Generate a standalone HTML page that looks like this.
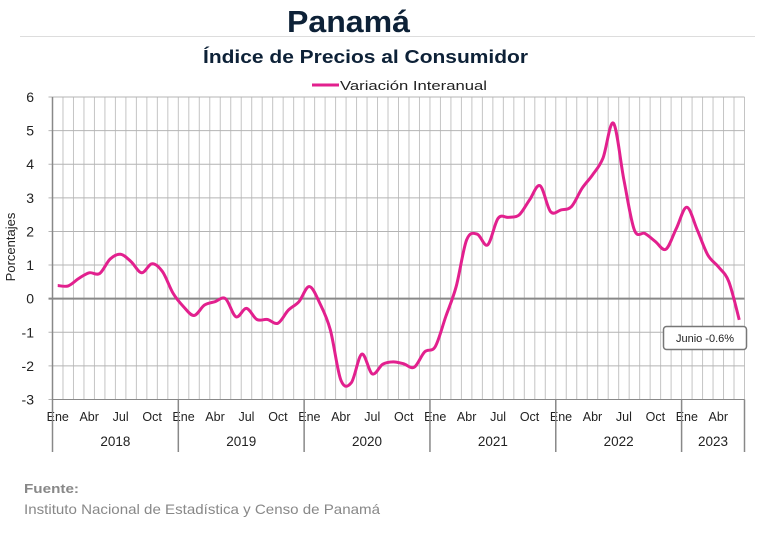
<!DOCTYPE html>
<html><head><meta charset="utf-8"><style>
body{margin:0;background:#fff;width:775px;height:529px;overflow:hidden;font-family:"Liberation Sans",sans-serif}
</style></head><body>
<svg id="chart" width="775" height="529" xmlns="http://www.w3.org/2000/svg">
<text x="287" y="32" textLength="123" lengthAdjust="spacingAndGlyphs" font-size="31" font-weight="bold" fill="#0d2137">Panamá</text>
<line x1="20" y1="36.5" x2="755" y2="36.5" stroke="#ddd"/>
<text x="203" y="63" textLength="325" lengthAdjust="spacingAndGlyphs" font-size="18" font-weight="bold" fill="#0d2137">Índice de Precios al Consumidor</text>
<g>
<line x1="312" y1="85" x2="339" y2="85" stroke="#e2208e" stroke-width="3"/>
<text x="340" y="90" textLength="147" lengthAdjust="spacingAndGlyphs" font-size="13" fill="#222">Variación Interanual</text>
</g>
<text transform="translate(15,247) rotate(-90)" text-anchor="middle" font-size="13" fill="#222">Porcentajes</text>
<g id="grid"></g><g id="axes"></g>
<path id="line" fill="none" stroke="#e2208e" stroke-width="3" stroke-linejoin="round"/>
<g>
<rect x="663.5" y="326.5" width="83" height="23" rx="3" fill="#fff" stroke="#777" stroke-width="1.5"/>
<text x="705" y="342" text-anchor="middle" font-size="11" fill="#222">Junio -0.6%</text>
</g>
<text x="24" y="493" textLength="55" lengthAdjust="spacingAndGlyphs" font-size="13" font-weight="bold" fill="#888">Fuente:</text>
<text x="24" y="514" textLength="356" lengthAdjust="spacingAndGlyphs" font-size="14" fill="#888">Instituto Nacional de Estadística y Censo de Panamá</text>
</svg>
<script>
const years=["2018","2019","2020","2021","2022","2023"];
const monthLabels=["Ene","","","Abr","","","Jul","","","Oct","",""];
const yTicks=[-3,-2,-1,0,1,2,3,4,5,6];
const values=[0.39,0.38,0.6,0.77,0.75,1.18,1.32,1.1,0.77,1.04,0.8,0.16,
-0.24,-0.5,-0.19,-0.09,0,-0.54,-0.29,-0.62,-0.62,-0.73,-0.34,-0.09,
0.36,-0.14,-0.93,-2.42,-2.5,-1.65,-2.24,-1.95,-1.88,-1.94,-2.04,-1.58,
-1.43,-0.54,0.36,1.75,1.92,1.6,2.39,2.42,2.49,2.94,3.36,2.59,
2.64,2.74,3.28,3.68,4.18,5.22,3.53,2.04,1.94,1.7,1.47,2.09,
2.72,2.04,1.3,0.95,0.51,-0.63];
const NS="http://www.w3.org/2000/svg";
const L=52.5,R=744.5,T=97,B=399.5,yMin=-3,yMax=6,N=values.length;
const cw=(R-L)/N;
const xS=i=>L+cw*(i+0.5);
const yS=v=>B-(v-yMin)/(yMax-yMin)*(B-T);
function mk(tag,attrs,parent){const e=document.createElementNS(NS,tag);for(const k in attrs)e.setAttribute(k,attrs[k]);parent.appendChild(e);return e;}
const grid=document.getElementById('grid'),axes=document.getElementById('axes');
for(let i=1;i<N;i++){const e=mk('line',{x1:L+cw*i,x2:L+cw*i,y1:T,y2:B,stroke:'#c4c4c4','stroke-width':1},grid);

}
mk('line',{x1:R,x2:R,y1:T,y2:B,stroke:'#c4c4c4'},grid);
yTicks.forEach(t=>{const y=yS(t);
const g=mk('line',{x1:L-4,x2:R,y1:y,y2:y,stroke:t===0?'#888':'#b4b4b4','stroke-width':t===0?2:1},grid);


const tx=mk('text',{x:34,y:y+5,'text-anchor':'end','font-size':14,fill:'#222'},axes);tx.textContent=t;

});
mk('line',{x1:L,x2:L,y1:T,y2:B,stroke:'#888','stroke-width':1.5},axes);
mk('line',{x1:L,x2:R,y1:B,y2:B,stroke:'#888','stroke-width':1},axes);
for(let i=0;i<N;i++){const lab=monthLabels[i%12];if(lab){const t=mk('text',{x:xS(i),y:421,'text-anchor':'middle','font-size':12.5,fill:'#222'},axes);t.textContent=lab;

}}
years.forEach((yr,k)=>{const s=k*12,e=Math.min(N,s+12);
mk('line',{x1:L+cw*s,x2:L+cw*s,y1:B,y2:452,stroke:'#888','stroke-width':1.5},axes);
const t=mk('text',{x:L+cw*(s+e)/2,y:446,'text-anchor':'middle','font-size':13.5,fill:'#222'},axes);t.textContent=yr;

});
mk('line',{x1:R,x2:R,y1:B,y2:452,stroke:'#888','stroke-width':1.5},axes);
const P=values.map((v,i)=>[xS(i),yS(v)]);
let d=`M${P[0][0]},${P[0][1]}`;
for(let i=0;i<N-1;i++){const p0=P[Math.max(0,i-1)],p1=P[i],p2=P[i+1],p3=P[Math.min(N-1,i+2)];
d+=` C${p1[0]+(p2[0]-p0[0])/6},${p1[1]+(p2[1]-p0[1])/6} ${p2[0]-(p3[0]-p1[0])/6},${p2[1]-(p3[1]-p1[1])/6} ${p2[0]},${p2[1]}`;}
document.getElementById('line').setAttribute('d',d);
</script>
</body></html>
